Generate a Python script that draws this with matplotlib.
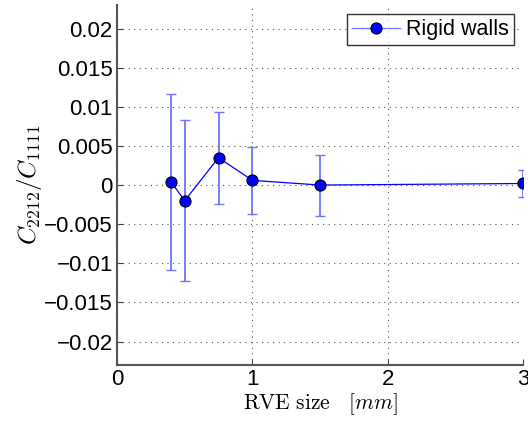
import matplotlib
matplotlib.use("Agg")
import matplotlib.pyplot as plt
import numpy as np

x = [0.4, 0.5, 0.75, 1.0, 1.5, 3.0]
y = [0.0004, -0.0020, 0.0035, 0.0006, 0.0000, 0.0002]
err = [0.0112, 0.0103, 0.0059, 0.0043, 0.0039, 0.00175]
xticks = [0, 1, 2, 3]
yticks = [-0.02, -0.015, -0.01, -0.005, 0, 0.005, 0.01, 0.015, 0.02]
ytick_labels = ["\u22120.02", "\u22120.015", "\u22120.01", "\u22120.005", "0",
                "0.005", "0.01", "0.015", "0.02"]

plt.rcParams['font.family'] = ['Liberation Sans', 'DejaVu Sans']
plt.rcParams['mathtext.fontset'] = 'cm'

fig = plt.figure(figsize=(5.28, 4.23), dpi=100)
ax = fig.add_axes([0.2216, 0.137, 0.7690, 0.851])

ax.errorbar(x, y, yerr=err, fmt='none', ecolor=(0.45, 0.45, 1.0), elinewidth=1.3,
            capsize=3.5, capthick=1.0, zorder=2)
ax.plot(x, y, '-o', color='#0000ff', lw=0.9, markersize=8, markerfacecolor='#0000ff',
        markeredgecolor='black', markeredgewidth=0.8, label='Rigid walls', zorder=3)

ax.set_xlim(0, 3)
ax.set_ylim(-0.023, 0.023)
ax.set_xticks(xticks)
ax.set_xticklabels([str(t) for t in xticks])
ax.set_yticks(yticks)
ax.set_yticklabels(ytick_labels)
ax.tick_params(direction='in', labelsize=16, length=4, width=0.8, color='#444444', pad=3)
ax.grid(True, linestyle=(0, (1, 4)), color='#555555', linewidth=0.8)
for s in ['top', 'right']:
    ax.spines[s].set_visible(False)
for s in ['left', 'bottom']:
    ax.spines[s].set_color('#555555')
    ax.spines[s].set_linewidth(1.5)

ax.set_xlabel(r'$\mathrm{RVE\ size}\quad[mm]$', fontsize=15.5, labelpad=1)
ax.set_ylabel(r'$C_{2212}/C_{1111}$', fontsize=18, labelpad=0)

leg = ax.legend(loc='upper right', fontsize=15.5, frameon=True, fancybox=False,
                borderpad=0.25, handlelength=2.2, handletextpad=0.3,
                borderaxespad=0.4)
leg.get_frame().set_edgecolor('black')
leg.get_frame().set_linewidth(1.0)
leg.get_lines()[0].set_color('#7777ff')
leg.get_lines()[0].set_markerfacecolor('#0000ff')

fig.savefig('out.png', dpi=100)
